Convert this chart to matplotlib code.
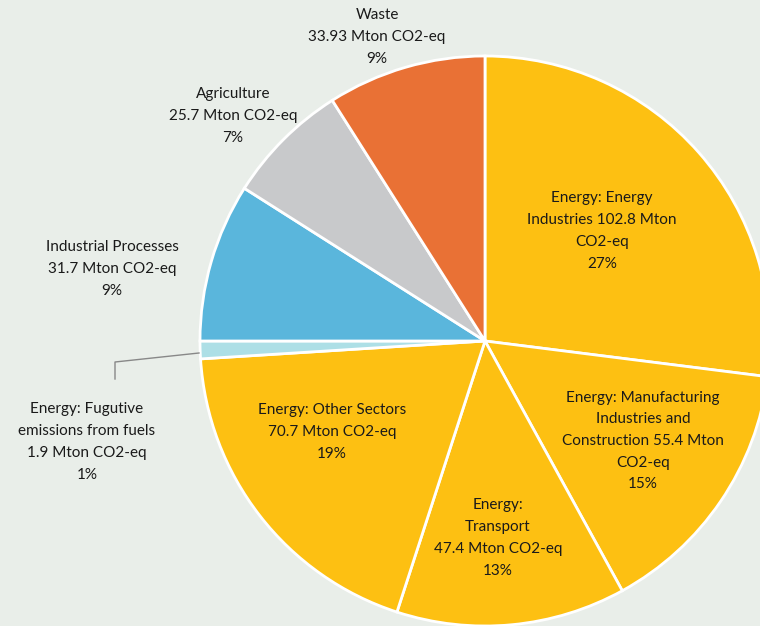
import matplotlib.pyplot as plt

# sector emissions, Mton CO2-eq (clockwise from 12 o'clock)
sectors = ["Energy: Energy Industries", "Energy: Manufacturing Industries and Construction",
           "Energy: Transport", "Energy: Other Sectors", "Energy: Fugutive emissions from fuels",
           "Industrial Processes", "Agriculture", "Waste"]
mton = [102.8, 55.4, 47.4, 70.7, 1.9, 31.7, 25.7, 33.93]
shares = [27, 15, 13, 19, 1, 9, 7, 9]  # rounded %, the slices follow these
colors = ["#FDC012", "#FDC012", "#FDC012", "#FDC012", "#ADDFE6", "#5AB6DC", "#C8C9CB", "#E97135"]

label_text = [
    "Energy: Energy\nIndustries 102.8 Mton\nCO2-eq\n27%",
    "Energy: Manufacturing\nIndustries and\nConstruction 55.4 Mton\nCO2-eq\n15%",
    "Energy:\nTransport\n47.4 Mton CO2-eq\n13%",
    "Energy: Other Sectors\n70.7 Mton CO2-eq\n19%",
    "Energy: Fugutive\nemissions from fuels\n1.9 Mton CO2-eq\n1%",
    "Industrial Processes\n31.7 Mton CO2-eq\n9%",
    "Agriculture\n25.7 Mton CO2-eq\n7%",
    "Waste\n33.93 Mton CO2-eq\n9%",
]
# label centres in pixels (from top-left)
label_pos = [(602, 231), (643, 441), (498, 538), (332, 432),
             (87, 442), (112, 269), (233, 116), (377, 37)]

W, H = 760, 626
bg = "#E9EEE9"
fig = plt.figure(figsize=(W / 100, H / 100), dpi=100, facecolor=bg)
ax = fig.add_axes([0, 0, 1, 1])
ax.set_facecolor(bg)

ax.pie(shares, colors=colors, startangle=90, counterclock=False,
       center=(485, H - 341), radius=285,
       wedgeprops=dict(edgecolor="white", linewidth=2))

for txt, (x, y) in zip(label_text, label_pos):
    ax.text(x, H - y, txt, ha="center", va="center", fontsize=11,
            family="Lato", color="#1a1a1a", linespacing=1.7)

# leader line for the small slice
ax.plot([199, 115, 115], [H - 353, H - 362, H - 379], color="#888888", lw=1)

ax.set_xlim(0, W)
ax.set_ylim(0, H)
ax.set_aspect("equal")
ax.axis("off")

fig.savefig("out.png", dpi=100, facecolor=bg)
plt.close(fig)
